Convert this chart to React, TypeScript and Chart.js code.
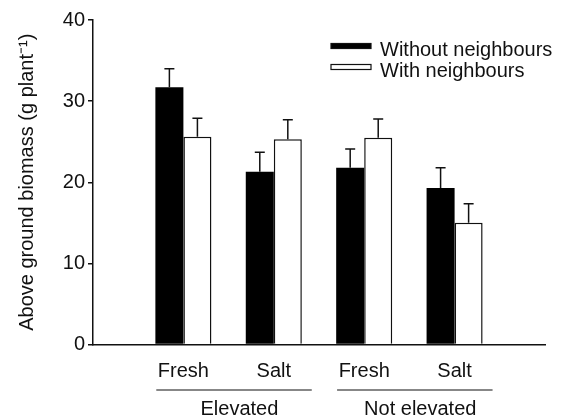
import React, { useEffect, useRef } from 'react';
import { Chart, registerables } from 'chart.js';

Chart.register(...registerables);

const categories = ['', 'Fresh', 'Salt', 'Fresh', 'Salt', ''];
const groupLabels = ['Elevated', 'Not elevated'];
const seriesLabels = ['Without neighbours', 'With neighbours'];
const withoutNeighbours = [31.7, 21.3, 21.8, 19.3];
const withoutErrors = [2.3, 2.4, 2.3, 2.5];
const withNeighbours = [25.6, 25.3, 25.5, 15.0];
const withErrors = [2.3, 2.4, 2.3, 2.35];
const yMin = 0;
const yMax = 40;
const yStep = 10;
const yTitle = 'Above ground biomass (g plant\u207B\u00B9)';

const FONT = 'Liberation Sans, Arial, Helvetica, sans-serif';
const INK = '#111';

const pad = (arr: number[]) => [null, ...arr, null];

const errorBarsPlugin = {
  id: 'errorBars',
  afterDatasetsDraw(chart: any) {
    const ctx = chart.ctx;
    const ys = chart.scales.y;
    chart.data.datasets.forEach((ds: any, di: number) => {
      const meta = chart.getDatasetMeta(di);
      meta.data.forEach((bar: any, i: number) => {
        const v = ds.data[i];
        const e = ds.errors ? ds.errors[i] : null;
        if (v == null || e == null) return;
        const top = ys.getPixelForValue(v + e);
        ctx.save();
        ctx.strokeStyle = INK;
        ctx.lineWidth = 1.5;
        ctx.beginPath();
        ctx.moveTo(bar.x, bar.y);
        ctx.lineTo(bar.x, top);
        ctx.moveTo(bar.x - 5, top);
        ctx.lineTo(bar.x + 5, top);
        ctx.stroke();
        ctx.restore();
      });
    });
  },
};

const legendPlugin = {
  id: 'customLegend',
  afterDraw(chart: any) {
    const ctx = chart.ctx;
    const area = chart.chartArea;
    const x0 = area.left + 238;
    const y0 = area.top + 23.5;
    ctx.save();
    chart.data.datasets.forEach((ds: any, i: number) => {
      const by = y0 + i * 21;
      ctx.fillStyle = ds.backgroundColor;
      ctx.fillRect(x0, by, 40, 5);
      ctx.strokeStyle = INK;
      ctx.lineWidth = 1.2;
      ctx.strokeRect(x0, by, 40, 5);
      ctx.fillStyle = INK;
      ctx.font = `20px ${FONT}`;
      ctx.textBaseline = 'alphabetic';
      ctx.textAlign = 'left';
      ctx.fillText(ds.label, x0 + 49, by + 12.5);
    });
    ctx.restore();
  },
};

const groupPlugin = {
  id: 'groupLabels',
  afterDraw(chart: any) {
    const ctx = chart.ctx;
    const xs = chart.scales.x;
    ctx.save();
    groupLabels.forEach((g, gi) => {
      const start = 1 + gi * 2;
      const end = start + 1;
      const x1 = xs.getPixelForValue(start - 0.3);
      const x2 = xs.getPixelForValue(end + 0.42);
      const ly = xs.top + 45.5;
      ctx.strokeStyle = INK;
      ctx.lineWidth = 1.2;
      ctx.beginPath();
      ctx.moveTo(x1, ly);
      ctx.lineTo(x2, ly);
      ctx.stroke();
      ctx.fillStyle = INK;
      ctx.font = `20px ${FONT}`;
      ctx.textAlign = 'center';
      ctx.textBaseline = 'alphabetic';
      ctx.fillText(g, xs.getPixelForValue((start + end) / 2 + 0.12), xs.top + 70.5);
    });
    ctx.restore();
  },
};

export default function App() {
  const ref = useRef<HTMLCanvasElement | null>(null);

  useEffect(() => {
    document.body.style.margin = '0';
    if (!ref.current) return;
    const chart = new Chart(ref.current, {
      type: 'bar',
      data: {
        labels: categories,
        datasets: [
          {
            label: seriesLabels[0],
            data: pad(withoutNeighbours),
            errors: pad(withoutErrors),
            backgroundColor: '#000',
            borderColor: '#000',
            borderWidth: 0,
            categoryPercentage: 0.62,
            barPercentage: 1,
          } as any,
          {
            label: seriesLabels[1],
            data: pad(withNeighbours),
            errors: pad(withErrors),
            backgroundColor: '#fff',
            borderColor: INK,
            borderWidth: 1.5,
            categoryPercentage: 0.62,
            barPercentage: 1,
          } as any,
        ],
      },
      options: {
        animation: false,
        responsive: false,
        devicePixelRatio: 1,
        layout: { padding: { top: 20, right: 23, left: 0, bottom: 0 } },
        plugins: {
          legend: { display: false },
          tooltip: { enabled: false },
        },
        scales: {
          x: {
            type: 'category',
            offset: false,
            grid: { display: false, drawTicks: false },
            border: { display: true, color: INK, width: 1.5 },
            ticks: {
              font: { family: FONT, size: 20 },
              color: INK,
              padding: 15,
              autoSkip: false,
              maxRotation: 0,
            },
            afterFit: (s: any) => {
              s.height = 73.5;
            },
          },
          y: {
            min: yMin,
            max: yMax,
            grid: { display: true, drawOnChartArea: false, drawTicks: true, tickLength: 5, color: INK, lineWidth: 1.5 },
            border: { display: true, color: INK, width: 1.5 },
            ticks: {
              stepSize: yStep,
              font: { family: FONT, size: 20 },
              color: INK,
              padding: 3,
            },
            title: {
              display: true,
              text: yTitle,
              font: { family: FONT, size: 20 },
              color: INK,
              padding: { top: 15, bottom: 0 },
            },
            afterFit: (s: any) => {
              s.width = 93;
            },
          },
        },
      } as any,
      plugins: [errorBarsPlugin, legendPlugin, groupPlugin],
    });
    return () => chart.destroy();
  }, []);

  return <canvas ref={ref} width={568} height={418} style={{ display: 'block' }} />;
}
